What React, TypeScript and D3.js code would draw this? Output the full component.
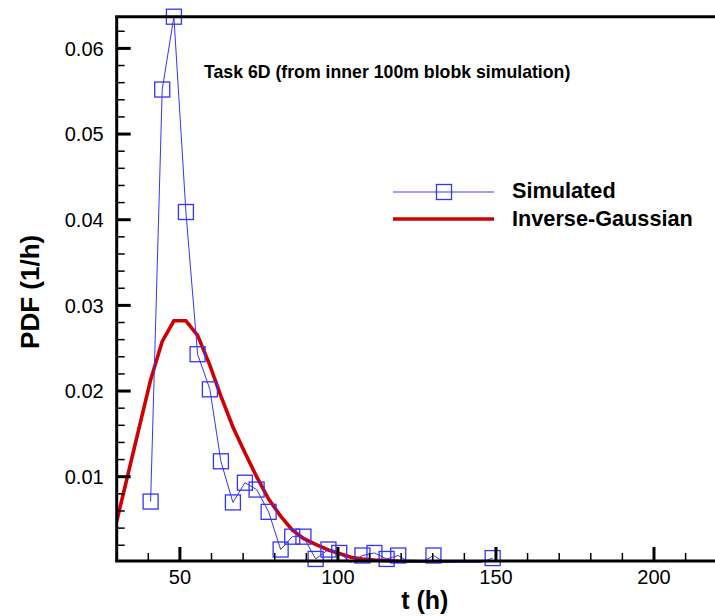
import React from "react";
import * as d3 from "d3";

// Simulated PDF (blue squares)
const simT = [40.73, 44.4, 48.1, 51.9, 55.6, 59.49, 62.97, 66.77, 70.57, 74.27, 78.07, 81.87, 85.54, 89.08, 92.94, 96.99, 100.41, 104.11, 107.75, 111.55, 115.41, 119.08, 122.78, 126.58, 130.22, 133.86, 137.66, 141.46, 145.25, 148.96];
const simV = [0.0071, 0.0552, 0.0637, 0.0409, 0.0243, 0.0202, 0.0118, 0.007, 0.0093, 0.0085, 0.0059, 0.0015, 0.003, 0.003, 0.0004, 0.0015, 0.0011, 0, 0.0008, 0.0011, 0.0004, 0.0008, 0, 0, 0.0008, 0, 0, 0, 0, 0.0005];

// Inverse-Gaussian fit (red line)
const igT = [30, 40.73, 44.4, 48.1, 51.9, 55.6, 59.49, 62.97, 66.77, 70.57, 74.27, 78.07, 81.87, 85.54, 89.08, 92.94, 96.99, 100.41, 104.11, 107.75, 111.55, 115.41, 119.08, 122.78, 126.58, 130.22, 133.86, 137.66];
const igV = [0.0048, 0.0213, 0.0258, 0.0282, 0.0282, 0.0265, 0.023, 0.0194, 0.0158, 0.0128, 0.01, 0.0074, 0.0054, 0.0038, 0.0028, 0.0021, 0.00145, 0.00104, 0.0006, 0.0004, 0.00028, 0.0002, 0.00013, 0.00009, 0.00006, 0.00004, 0.00002, 0.00001];

const xMajorTicks = [50, 100, 150, 200];
const xMinorTicks = [40, 60, 70, 80, 90, 110, 120, 130, 140, 160, 170, 180, 190, 210, 220];
const yMajorTicks = [0.01, 0.02, 0.03, 0.04, 0.05, 0.06];
const yMinorTicks = [0.002, 0.004, 0.006, 0.008, 0.012, 0.014, 0.016, 0.018, 0.022, 0.024, 0.026, 0.028, 0.032, 0.034, 0.036, 0.038, 0.042, 0.044, 0.046, 0.048, 0.052, 0.054, 0.056, 0.058, 0.062];

const titleText = "Task 6D (from inner 100m blobk simulation)";
const xLabel = "t (h)";
const yLabel = "PDF (1/h)";
const legendLabels = ["Simulated", "Inverse-Gaussian"];

const W = 715;
const H = 616;
const L = 116.7;
const R = 733;
const T = 16.7;
const B = 561;

export default function App() {
  const x = d3.scaleLinear().domain([30, 225]).range([L, R]);
  const y = d3.scaleLinear().domain([0.00016, 0.0637]).range([B, T]);

  const simPts: [number, number][] = simT.map((t, i) => [t, simV[i]]);
  const igPts: [number, number][] = igT.map((t, i) => [t, igV[i]]);
  const line = d3
    .line<[number, number]>()
    .x((d) => x(d[0]))
    .y((d) => y(d[1]));

  const font = "'Liberation Sans', Arial, Helvetica, sans-serif";
  const blue = "#3434ff";
  const red = "#d10000";
  const ms = 15;

  return (
    <svg
      width={W}
      height={H}
      style={{ position: "absolute", left: 0, top: 0, background: "#fff" }}
      fontFamily={font}
    >
      <defs>
        <clipPath id="plotclip">
          <rect x={L} y={T - 2} width={R - L} height={B - T + 4} />
        </clipPath>
      </defs>
      <rect x={0} y={0} width={W} height={H} fill="#fff" />

      {/* data */}
      <g clipPath="url(#plotclip)">
        <path d={line(igPts) || ""} fill="none" stroke={red} strokeWidth={3.6} strokeLinejoin="miter" />
        <path d={line(simPts) || ""} fill="none" stroke={blue} strokeWidth={1} />
      </g>
      {simPts
        .filter((d) => d[1] > 0)
        .map((d, i) => (
          <rect
            key={i}
            x={x(d[0]) - ms / 2}
            y={y(d[1]) - ms / 2}
            width={ms}
            height={ms}
            fill="none"
            stroke={blue}
            strokeWidth={1.3}
          />
        ))}

      {/* axes */}
      <g stroke="#000">
        <line x1={L} y1={T} x2={L} y2={B} strokeWidth={3} />
        <line x1={L - 1.5} y1={T} x2={R} y2={T} strokeWidth={3} />
        <line x1={L - 1.5} y1={B} x2={R} y2={B} strokeWidth={3} />
        {yMajorTicks.map((v) => (
          <line key={"ym" + v} x1={L} x2={L + 14} y1={y(v)} y2={y(v)} strokeWidth={3} />
        ))}
        {yMinorTicks.map((v) => (
          <line key={"yn" + v} x1={L} x2={L + 8} y1={y(v)} y2={y(v)} strokeWidth={1.5} />
        ))}
        {xMajorTicks.map((v) => (
          <line key={"xm" + v} x1={x(v)} x2={x(v)} y1={B} y2={B - 14} strokeWidth={3} />
        ))}
        {xMinorTicks.map((v) => (
          <line key={"xn" + v} x1={x(v)} x2={x(v)} y1={B} y2={B - 8} strokeWidth={1.5} />
        ))}
      </g>

      {/* tick labels */}
      {yMajorTicks.map((v) => (
        <text key={"yl" + v} x={L - 13} y={y(v)} dy="0.36em" textAnchor="end" fontSize={20} fill="#000">
          {d3.format(".2f")(v)}
        </text>
      ))}
      {xMajorTicks.map((v) => (
        <text key={"xl" + v} x={x(v)} y={584} textAnchor="middle" fontSize={20} fill="#000">
          {v}
        </text>
      ))}

      {/* axis titles */}
      <text x={(L + R) / 2} y={609} textAnchor="middle" fontSize={25} fontWeight="bold" fill="#000">
        {xLabel}
      </text>
      <text
        transform={`translate(39, ${(T + B) / 2 + 3}) rotate(-90)`}
        textAnchor="middle"
        fontSize={26}
        fontWeight="bold"
        fill="#000"
      >
        {yLabel}
      </text>

      {/* annotation */}
      <text x={204} y={78} fontSize={17.7} fontWeight="bold" fill="#000">
        {titleText}
      </text>

      {/* legend */}
      <line x1={393} x2={494} y1={192} y2={192} stroke="#7f7fff" strokeWidth={1.3} />
      <rect x={444 - ms / 2} y={192 - ms / 2} width={ms} height={ms} fill="#fff" fillOpacity={0} stroke={blue} strokeWidth={1.3} />
      <line x1={393} x2={494} y1={219} y2={219} stroke={red} strokeWidth={3.4} />
      <text x={512} y={198} fontSize={21.7} fontWeight="bold" fill="#000">
        {legendLabels[0]}
      </text>
      <text x={512} y={226} fontSize={21.7} fontWeight="bold" fill="#000">
        {legendLabels[1]}
      </text>
    </svg>
  );
}
